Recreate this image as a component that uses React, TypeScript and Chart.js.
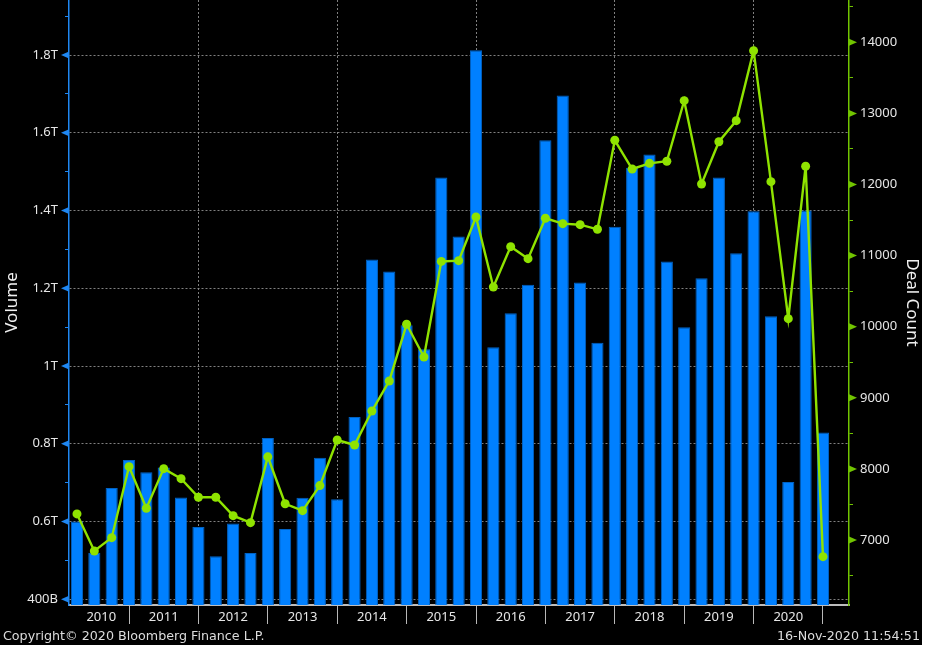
import { useEffect, useRef } from "react";
import Chart from "chart.js/auto";

// quarterly M&A volume (trillions USD) and deal count, 2010 Q1 .. 2020 Q4
const quarters = [
  "2010 Q1", "2010 Q2", "2010 Q3", "2010 Q4",
  "2011 Q1", "2011 Q2", "2011 Q3", "2011 Q4",
  "2012 Q1", "2012 Q2", "2012 Q3", "2012 Q4",
  "2013 Q1", "2013 Q2", "2013 Q3", "2013 Q4",
  "2014 Q1", "2014 Q2", "2014 Q3", "2014 Q4",
  "2015 Q1", "2015 Q2", "2015 Q3", "2015 Q4",
  "2016 Q1", "2016 Q2", "2016 Q3", "2016 Q4",
  "2017 Q1", "2017 Q2", "2017 Q3", "2017 Q4",
  "2018 Q1", "2018 Q2", "2018 Q3", "2018 Q4",
  "2019 Q1", "2019 Q2", "2019 Q3", "2019 Q4",
  "2020 Q1", "2020 Q2", "2020 Q3", "2020 Q4",
];

const volume = [
  0.6, 0.52, 0.686, 0.758,
  0.727, 0.739, 0.662, 0.586,
  0.511, 0.595, 0.519, 0.815,
  0.581, 0.661, 0.764, 0.657,
  0.869, 1.274, 1.243, 1.105,
  1.043, 1.485, 1.333, 1.812,
  1.048, 1.136, 1.209, 1.581,
  1.696, 1.215, 1.06, 1.358,
  1.51, 1.544, 1.269, 1.1,
  1.226, 1.485, 1.29, 1.398,
  1.128, 0.702, 1.4, 0.829,
];

const dealCount = [
  7367, 6846, 7033, 8032,
  7447, 8004, 7863, 7601,
  7601, 7343, 7244, 8170,
  7510, 7413, 7765, 8407,
  8337, 8815, 9237, 10034,
  9574, 10918, 10929, 11543,
  10559, 11126, 10957, 11525,
  11449, 11435, 11370, 12622,
  12218, 12298, 12327, 13179,
  12007, 12602, 12898, 13882,
  12040, 10113, 12256, 6766,
];

const volumeMajorTicks = [0.4, 0.6, 0.8, 1.0, 1.2, 1.4, 1.6, 1.8];
const volumeTickLabels = ["400B", "0.6T", "0.8T", "1T", "1.2T", "1.4T", "1.6T", "1.8T"];
const volumeMinorTicks = [0.5, 0.7, 0.9, 1.1, 1.3, 1.5, 1.7, 1.9];

const dealMajorTicks = [7000, 8000, 9000, 10000, 11000, 12000, 13000, 14000];
const dealMinorTicks = [6500, 7500, 8500, 9500, 10500, 11500, 12500, 13500, 14500];

const yearLabels = ["2010", "2011", "2012", "2013", "2014", "2015", "2016", "2017", "2018", "2019", "2020"];
const yearLabelAt = [1.4, 5, 9, 13, 17, 21, 25, 29, 33, 37, 41]; // quarter index
const yearSeparatorAt = [3, 7, 11, 15, 19, 23, 27, 31, 35, 39, 43];
const yearGridAt = [7, 15, 23, 31, 39];

const BAR = "#0080ff";
const LINE = "#8fe300";
const LEFT_AXIS = "#1f87f2";
const RIGHT_AXIS = "#71c400";
const GRID = "rgba(150,150,150,0.85)";
const TEXT = "#e6e6e6";
const FONT = "'Noto Sans', sans-serif";

const near = (list: number[], v: number) => list.findIndex((t) => Math.abs(t - v) < 1e-6);

const axisMarkers = {
  id: "axisMarkers",
  afterDraw(chart: any) {
    const ctx = chart.ctx;
    const yl = chart.scales.y;
    const yr = chart.scales.y1;
    ctx.save();
    ctx.fillStyle = LEFT_AXIS;
    volumeMajorTicks.forEach((v) => {
      const py = yl.getPixelForValue(v);
      ctx.beginPath();
      ctx.moveTo(yl.right, py - 3.5);
      ctx.lineTo(yl.right, py + 3.5);
      ctx.lineTo(yl.right - 8, py);
      ctx.closePath();
      ctx.fill();
    });
    ctx.fillStyle = RIGHT_AXIS;
    dealMajorTicks.forEach((v) => {
      const py = yr.getPixelForValue(v);
      ctx.beginPath();
      ctx.moveTo(yr.left, py - 3.5);
      ctx.lineTo(yr.left, py + 3.5);
      ctx.lineTo(yr.left + 8, py);
      ctx.closePath();
      ctx.fill();
    });
    ctx.restore();
  },
};

export default function App() {
  const canvasRef = useRef<HTMLCanvasElement>(null);

  useEffect(() => {
    document.body.style.margin = "0";
    if (!canvasRef.current) return;

    const chart = new Chart(canvasRef.current, {
      type: "bar",
      data: {
        labels: quarters,
        datasets: [
          {
            type: "line",
            label: "Deal Count",
            data: dealCount.map((c, i) => ({ x: i, y: c })),
            xAxisID: "x",
            yAxisID: "y1",
            borderColor: LINE,
            backgroundColor: LINE,
            borderWidth: 2.4,
            pointRadius: 4.5,
            pointBorderWidth: 0,
            tension: 0,
            order: 0,
          },
          {
            type: "bar",
            label: "Volume",
            data: volume.map((v, i) => ({ x: i, y: v })),
            xAxisID: "x",
            yAxisID: "y",
            backgroundColor: BAR,
            borderColor: "#0062c4",
            borderWidth: 1,
            borderSkipped: "bottom",
            categoryPercentage: 1,
            barPercentage: 0.7,
            order: 1,
          },
        ] as any,
      },
      options: {
        responsive: true,
        maintainAspectRatio: false,
        animation: false,
        layout: { padding: 0, autoPadding: false },
        plugins: {
          legend: { display: false },
          tooltip: { enabled: false },
        },
        scales: {
          x: {
            type: "linear",
            position: "bottom",
            weight: 1,
            min: -0.46,
            max: 44.5,
            bounds: "data",
            offset: false,
            grid: { display: false, drawTicks: false, offset: false },
            border: { display: false },
            afterBuildTicks: (s: any) => {
              s.ticks = yearLabelAt.map((v) => ({ value: v }));
            },
            afterFit: (s: any) => {
              s.height = 40;
              s.paddingLeft = 0;
              s.paddingRight = 0;
            },
            ticks: {
              autoSkip: false,
              maxRotation: 0,
              padding: 4,
              color: TEXT,
              font: { family: FONT, size: 13 },
              callback: (_v: any, i: number) => yearLabels[i],
            },
          },
          x2: {
            type: "linear",
            position: "bottom",
            weight: 0,
            min: -0.46,
            max: 44.5,
            bounds: "data",
            offset: false,
            grid: {
              offset: false,
              lineWidth: 1,
              color: (c: any) => (c.tick && near(yearGridAt, c.tick.value) >= 0 ? GRID : "transparent"),
              tickColor: "#b8b8b8",
              tickLength: 19,
              tickBorderDash: [],
            },
            border: { display: true, color: "#bdbdbd", width: 2, dash: [2, 2] },
            afterBuildTicks: (s: any) => {
              s.ticks = yearSeparatorAt.map((v) => ({ value: v }));
            },
            afterFit: (s: any) => {
              s.height = 0;
              s.paddingLeft = 0;
              s.paddingRight = 0;
            },
            ticks: { display: false, autoSkip: false },
          },
          y: {
            type: "linear",
            position: "left",
            min: 0.3853,
            max: 1.9415,
            bounds: "data",
            afterBuildTicks: (s: any) => {
              s.ticks = [...volumeMajorTicks, ...volumeMinorTicks]
                .sort((a, b) => a - b)
                .map((v) => ({ value: v }));
            },
            afterFit: (s: any) => {
              s.width = 69;
              s.paddingTop = 0;
              s.paddingBottom = 0;
            },
            grid: {
              lineWidth: 1,
              color: (c: any) => (c.tick && near(volumeMajorTicks, c.tick.value) >= 0 ? GRID : "transparent"),
              tickColor: LEFT_AXIS,
              tickLength: 4,
              tickBorderDash: [],
            },
            border: { display: true, color: LEFT_AXIS, width: 1.5, dash: [2, 2] },
            ticks: {
              autoSkip: false,
              padding: 7,
              color: TEXT,
              font: { family: FONT, size: 13 },
              callback: (v: any) => {
                const k = near(volumeMajorTicks, Number(v));
                return k >= 0 ? volumeTickLabels[k] : "";
              },
            },
            title: {
              display: true,
              text: "Volume",
              color: "#f0f0f0",
              font: { family: FONT, size: 17 },
              padding: { top: 2, bottom: 0 },
            },
          },
          y1: {
            type: "linear",
            position: "right",
            min: 6086,
            max: 14595,
            bounds: "data",
            afterBuildTicks: (s: any) => {
              s.ticks = [...dealMajorTicks, ...dealMinorTicks]
                .sort((a, b) => a - b)
                .map((v) => ({ value: v }));
            },
            afterFit: (s: any) => {
              s.width = 73;
              s.paddingTop = 0;
              s.paddingBottom = 0;
            },
            grid: {
              drawOnChartArea: false,
              tickColor: RIGHT_AXIS,
              tickLength: 4,
            },
            border: { display: true, color: RIGHT_AXIS, width: 1.5 },
            ticks: {
              autoSkip: false,
              padding: 7,
              color: TEXT,
              font: { family: FONT, size: 13 },
              callback: (v: any) => (near(dealMajorTicks, Number(v)) >= 0 ? String(v) : ""),
            },
            title: {
              display: true,
              text: "Deal Count",
              color: "#f0f0f0",
              font: { family: FONT, size: 17 },
              padding: { top: 0, bottom: 0 },
            },
          },
        },
      } as any,
      plugins: [axisMarkers],
    });

    return () => {
      chart.destroy();
    };
  }, []);

  const footer = {
    position: "absolute" as const,
    top: 628,
    lineHeight: "16px",
    fontFamily: "'DejaVu Sans', sans-serif",
    fontSize: "12.7px",
    color: "#dcdcdc",
    whiteSpace: "nowrap" as const,
  };

  return (
    <div style={{ position: "relative", width: 922, height: 645, background: "#000" }}>
      <div style={{ position: "absolute", left: 0, top: 0, width: 922, height: 645 }}>
        <canvas ref={canvasRef}></canvas>
      </div>
      <span style={{ ...footer, left: 3 }}>Copyright© 2020 Bloomberg Finance L.P.</span>
      <span style={{ ...footer, right: 2 }}>16-Nov-2020 11:54:51</span>
    </div>
  );
}
